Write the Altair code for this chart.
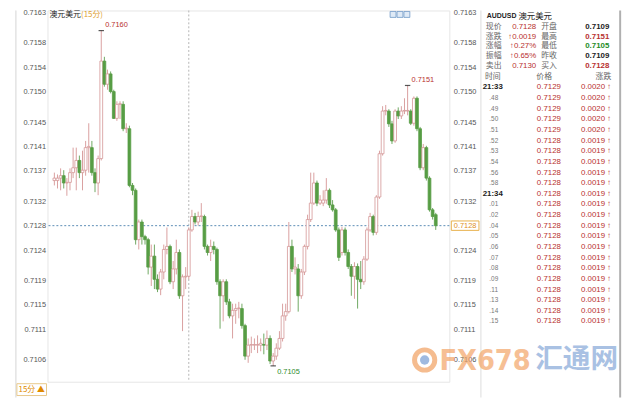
import altair as alt
import pandas as pd

# ---------------- candle data (15-minute AUD/USD) ----------------
start_time = "2017-10-17 13:15"
day_mark = "2017-10-18 00:00"
day_label = "10/18"
opens = [0.71354, 0.71354, 0.71358, 0.71362, 0.71350, 0.71351, 0.71367, 0.71375, 0.71387, 0.71367,
         0.71371, 0.71408, 0.71408, 0.71367, 0.71350, 0.71390, 0.71550, 0.71512, 0.71529, 0.71500,
         0.71456, 0.71479, 0.71479, 0.71439, 0.71439, 0.71346, 0.71338, 0.71257, 0.71286, 0.71262,
         0.71257, 0.71212, 0.71230, 0.71192, 0.71176, 0.71204, 0.71241, 0.71246, 0.71188, 0.71209,
         0.71236, 0.71165, 0.71196, 0.71197, 0.71273, 0.71295, 0.71286, 0.71295, 0.71295, 0.71246,
         0.71236, 0.71246, 0.71241, 0.71188, 0.71165, 0.71188, 0.71155, 0.71132, 0.71141, 0.71144,
         0.71144, 0.71116, 0.71066, 0.71084, 0.71084, 0.71084, 0.71084, 0.71085, 0.71084, 0.71095,
         0.71058, 0.71066, 0.71079, 0.71095, 0.71132, 0.71139, 0.71246, 0.71209, 0.71209, 0.71165,
         0.71204, 0.71246, 0.71290, 0.71317, 0.71350, 0.71317, 0.71317, 0.71322, 0.71338, 0.71314,
         0.71306, 0.71273, 0.71236, 0.71273, 0.71236, 0.71213, 0.71197, 0.71213, 0.71192, 0.71188,
         0.71225, 0.71273, 0.71295, 0.71269, 0.71327, 0.71398, 0.71468, 0.71468, 0.71447, 0.71419,
         0.71468, 0.71460, 0.71468, 0.71468, 0.71468, 0.71448, 0.71489, 0.71439, 0.71375, 0.71408,
         0.71358, 0.71306, 0.71298]
closes = [0.71358, 0.71358, 0.71362, 0.71350, 0.71351, 0.71367, 0.71375, 0.71387, 0.71367, 0.71371,
          0.71408, 0.71410, 0.71367, 0.71350, 0.71390, 0.71550, 0.71512, 0.71529, 0.71500, 0.71456,
          0.71479, 0.71480, 0.71439, 0.71440, 0.71346, 0.71338, 0.71257, 0.71286, 0.71262, 0.71257,
          0.71212, 0.71230, 0.71192, 0.71176, 0.71204, 0.71241, 0.71246, 0.71188, 0.71209, 0.71236,
          0.71165, 0.71196, 0.71197, 0.71273, 0.71295, 0.71286, 0.71295, 0.71296, 0.71246, 0.71236,
          0.71246, 0.71241, 0.71188, 0.71165, 0.71188, 0.71155, 0.71132, 0.71141, 0.71144, 0.71145,
          0.71116, 0.71066, 0.71084, 0.71085, 0.71085, 0.71085, 0.71087, 0.71084, 0.71095, 0.71058,
          0.71066, 0.71079, 0.71095, 0.71132, 0.71139, 0.71246, 0.71209, 0.71212, 0.71165, 0.71204,
          0.71246, 0.71290, 0.71317, 0.71350, 0.71317, 0.71322, 0.71322, 0.71338, 0.71314, 0.71306,
          0.71273, 0.71228, 0.71273, 0.71236, 0.71213, 0.71197, 0.71213, 0.71192, 0.71188, 0.71225,
          0.71273, 0.71295, 0.71269, 0.71327, 0.71398, 0.71468, 0.71469, 0.71447, 0.71419, 0.71468,
          0.71460, 0.71468, 0.71469, 0.71469, 0.71448, 0.71489, 0.71439, 0.71375, 0.71408, 0.71358,
          0.71306, 0.71295, 0.71280]
highs = [0.71367, 0.71364, 0.71374, 0.71371, 0.71358, 0.71374, 0.71408, 0.71408, 0.71395, 0.71403,
         0.71419, 0.71448, 0.71419, 0.71374, 0.71395, 0.71600, 0.71557, 0.71536, 0.71533, 0.71503,
         0.71484, 0.71484, 0.71484, 0.71448, 0.71444, 0.71350, 0.71341, 0.71290, 0.71290, 0.71265,
         0.71260, 0.71249, 0.71249, 0.71200, 0.71209, 0.71249, 0.71277, 0.71249, 0.71222, 0.71257,
         0.71241, 0.71200, 0.71212, 0.71277, 0.71306, 0.71301, 0.71303, 0.71317, 0.71298, 0.71249,
         0.71257, 0.71254, 0.71244, 0.71192, 0.71192, 0.71192, 0.71160, 0.71152, 0.71152, 0.71155,
         0.71152, 0.71119, 0.71095, 0.71098, 0.71095, 0.71100, 0.71095, 0.71103, 0.71108, 0.71100,
         0.71071, 0.71087, 0.71107, 0.71152, 0.71152, 0.71286, 0.71257, 0.71228, 0.71217, 0.71209,
         0.71249, 0.71298, 0.71367, 0.71367, 0.71354, 0.71330, 0.71338, 0.71358, 0.71341, 0.71322,
         0.71309, 0.71277, 0.71278, 0.71277, 0.71241, 0.71217, 0.71220, 0.71218, 0.71222, 0.71230,
         0.71277, 0.71301, 0.71298, 0.71330, 0.71403, 0.71476, 0.71478, 0.71471, 0.71452, 0.71471,
         0.71474, 0.71476, 0.71489, 0.71510, 0.71471, 0.71492, 0.71492, 0.71442, 0.71414, 0.71411,
         0.71361, 0.71309, 0.71301]
lows = [0.71346, 0.71341, 0.71338, 0.71341, 0.71329, 0.71338, 0.71358, 0.71338, 0.71358, 0.71338,
        0.71362, 0.71367, 0.71362, 0.71335, 0.71330, 0.71387, 0.71508, 0.71503, 0.71497, 0.71455,
        0.71452, 0.71455, 0.71435, 0.71432, 0.71343, 0.71330, 0.71249, 0.71241, 0.71249, 0.71249,
        0.71200, 0.71181, 0.71176, 0.71171, 0.71166, 0.71192, 0.71233, 0.71184, 0.71176, 0.71200,
        0.71160, 0.71107, 0.71176, 0.71192, 0.71270, 0.71282, 0.71280, 0.71286, 0.71241, 0.71231,
        0.71222, 0.71233, 0.71183, 0.71111, 0.71123, 0.71150, 0.71128, 0.71095, 0.71119, 0.71128,
        0.71111, 0.71060, 0.71055, 0.71071, 0.71076, 0.71071, 0.71074, 0.71069, 0.71076, 0.71053,
        0.71050, 0.71060, 0.71076, 0.71090, 0.71124, 0.71136, 0.71204, 0.71200, 0.71139, 0.71160,
        0.71199, 0.71241, 0.71286, 0.71314, 0.71312, 0.71314, 0.71312, 0.71316, 0.71309, 0.71303,
        0.71270, 0.71222, 0.71231, 0.71231, 0.71209, 0.71165, 0.71160, 0.71144, 0.71176, 0.71183,
        0.71222, 0.71270, 0.71264, 0.71265, 0.71324, 0.71395, 0.71461, 0.71442, 0.71414, 0.71416,
        0.71455, 0.71455, 0.71463, 0.71461, 0.71445, 0.71444, 0.71435, 0.71371, 0.71371, 0.71354,
        0.71303, 0.71290, 0.71273]

y_ticks = [0.7163, 0.7158, 0.7154, 0.7150, 0.7145, 0.7141, 0.7137, 0.7132,
           0.7128, 0.7124, 0.7119, 0.7115, 0.7111, 0.7106]
last_price = 0.7128
marked_candles = [15, 113]   # annotated highs
marked_low = [70]            # annotated low

# ---------------- quote panel ----------------
quote_labels_l = ["现价", "涨跌", "涨幅", "振幅", "卖出"]
quote_values_l = ["0.7128", "↑0.0019", "↑0.27%", "↑0.65%", "0.7130"]
quote_labels_r = ["开盘", "最高", "最低", "昨收", "买入"]
quote_values_r = ["0.7109", "0.7151", "0.7105", "0.7109", "0.7128"]
quote_colors_r = ["#222222", "#b8312f", "#1e8c1e", "#222222", "#b8312f"]
table_header = ["时间", "价格", "涨跌"]
tick_times = ["21:33", ".48", ".49", ".50", ".51", ".52", ".53", ".54", ".56", ".58",
              "21:34", ".01", ".02", ".04", ".05", ".06", ".07", ".08", ".09", ".11",
              ".13", ".14", ".15"]
tick_prices = ["0.7129"] * 5 + ["0.7128"] * 18
tick_changes = ["0.0020"] * 5 + ["0.0019"] * 18

RED = "#b8312f"
UP_STROKE = "#d49696"
UP_WICK = "#d9a0a0"
DN_FILL = "#579d45"
DN_WICK = "#6fa862"
LAT = "Liberation Sans"
CJK = "Noto Sans CJK SC"

times = pd.date_range(start_time, periods=len(opens), freq="15min")
df = pd.DataFrame({
    "i": list(range(len(opens))),
    "t": times.strftime("%m/%d %H:%M"),
    "open": opens, "high": highs, "low": lows, "close": closes,
})
df["dir"] = ["up" if c >= o else "down" for o, c in zip(opens, closes)]
day_idx = int(list(times).index(pd.Timestamp(day_mark)))

xs = alt.Scale(domain=[-0.62, len(opens) + 1.77], zero=False, nice=False)
ys = alt.Scale(domain=[0.71024, 0.71633], zero=False, nice=False)
dir_dom = ["up", "down"]

y_axis_common = dict(values=y_ticks, format=".4f", labelFontSize=7.5, labelColor="#555555",
                     labelFont=LAT, ticks=False, domain=False, grid=False, title=None)

wick = alt.Chart(df).mark_rule(strokeWidth=1).encode(
    x=alt.X("i:Q", scale=xs, axis=alt.Axis(
        values=[day_idx], labelExpr=f"'{day_label}'",
        orient="bottom", labelAlign="left", labelPadding=5, labelFontSize=7.5,
        labelColor="#333333", labelFont=LAT, ticks=False, domain=False, grid=False,
        title=None, labelFlush=False)),
    y=alt.Y("low:Q", scale=ys, axis=alt.Axis(orient="left", labelPadding=2, **y_axis_common)),
    y2="high:Q",
    color=alt.Color("dir:N", scale=alt.Scale(domain=dir_dom, range=[UP_WICK, DN_WICK]), legend=None),
)

body = alt.Chart(df).mark_bar(size=2.8, strokeWidth=0.8).encode(
    x=alt.X("i:Q", scale=xs, axis=None),
    y=alt.Y("open:Q", scale=ys, axis=alt.Axis(orient="right", labelPadding=4, **y_axis_common)),
    y2="close:Q",
    fill=alt.Fill("dir:N", scale=alt.Scale(domain=dir_dom, range=["#ffffff", DN_FILL]), legend=None),
    stroke=alt.Stroke("dir:N", scale=alt.Scale(domain=dir_dom, range=[UP_STROKE, DN_FILL]), legend=None),
)

v_df = pd.DataFrame({"i": [day_idx]})
vline = alt.Chart(v_df).mark_rule(strokeDash=[2, 2], color="#b5b5b5", strokeWidth=1).encode(
    x=alt.X("i:Q", scale=xs, axis=None))

last_df = pd.DataFrame({"p": [last_price], "txt": [f"{last_price:.4f}"]})
hline = alt.Chart(last_df).mark_rule(strokeDash=[2, 2], color="#5b8cb5", strokeWidth=1).encode(
    y=alt.Y("p:Q", scale=ys, axis=None))
price_box = alt.Chart(last_df).mark_point(
    shape="M-1,-0.34L1,-0.34L1,0.34L-1,0.34Z", size=784, filled=True,
    fill="#ffffff", stroke="#e8b04a", strokeWidth=1, opacity=1).encode(
    x=alt.value(423), y=alt.Y("p:Q", scale=ys, axis=None))
price_txt = alt.Chart(last_df).mark_text(fontSize=7.5, font=LAT, color="#e09020").encode(
    x=alt.value(423), y=alt.Y("p:Q", scale=ys, axis=None), text="txt:N")

hi_df = pd.DataFrame({"i": marked_candles, "v": [highs[k] for k in marked_candles]})
hi_df["txt"] = [f"{v:.4f}" for v in hi_df["v"]]
lo_df = pd.DataFrame({"i": marked_low, "v": [lows[k] for k in marked_low]})
lo_df["txt"] = [f"{v:.4f}" for v in lo_df["v"]]

hi_mark = alt.Chart(hi_df).mark_point(shape="stroke", size=30, color="#111111", strokeWidth=1.2).encode(
    x=alt.X("i:Q", scale=xs, axis=None), y=alt.Y("v:Q", scale=ys, axis=None))
hi_txt = alt.Chart(hi_df).mark_text(align="left", dx=4, dy=-6, fontSize=7.5, font=LAT, color=RED).encode(
    x=alt.X("i:Q", scale=xs, axis=None), y=alt.Y("v:Q", scale=ys, axis=None), text="txt:N")
lo_mark = alt.Chart(lo_df).mark_point(shape="stroke", size=30, color="#111111", strokeWidth=1.2).encode(
    x=alt.X("i:Q", scale=xs, axis=None), y=alt.Y("v:Q", scale=ys, axis=None))
lo_txt = alt.Chart(lo_df).mark_text(align="left", dx=4, dy=6, fontSize=7.5, font=LAT, color="#2e8b2e").encode(
    x=alt.X("i:Q", scale=xs, axis=None), y=alt.Y("v:Q", scale=ys, axis=None), text="txt:N")

one = pd.DataFrame({"a": [0]})

# header at top-left
head1 = alt.Chart(one).mark_text(text="澳元美元", align="left", baseline="middle", font=CJK,
                                 fontSize=8, color="#222222").encode(x=alt.value(2), y=alt.value(5))
head2 = alt.Chart(one).mark_text(text="(15分)", align="left", baseline="middle", font=CJK,
                                 fontSize=8, color="#e0a030").encode(x=alt.value(34), y=alt.value(5))

# small toolbar buttons (top right of plot)
btns = []
for xpos in [350, 357, 364]:
    btns.append(alt.Chart(one).mark_rect(fill="#dfeaf6", stroke="#6f98c6", strokeWidth=0.8).encode(
        x=alt.value(xpos - 3), x2=alt.value(xpos + 3), y=alt.value(1), y2=alt.value(7)))

# bottom-left period box
pbox = alt.Chart(one).mark_rect(fill="#ffffff", stroke="#e8c88a", strokeWidth=1).encode(
    x=alt.value(-31), x2=alt.value(-1), y=alt.value(378), y2=alt.value(390))
ptxt = alt.Chart(one).mark_text(text="15分 ▲", font=CJK, fontSize=8, color="#e08a00",
                                baseline="middle").encode(x=alt.value(-16), y=alt.value(384))

# frame lines
left_line = alt.Chart(one).mark_rule(color="#d4d4d4").encode(
    x=alt.value(-32), y=alt.value(0), y2=alt.value(392))
panel_left = alt.Chart(one).mark_rule(color="#dcdcdc").encode(
    x=alt.value(439), y=alt.value(0), y2=alt.value(392))
panel_right = alt.Chart(one).mark_rule(color="#b0b0b0", strokeWidth=2).encode(
    x=alt.value(580), y=alt.value(0), y2=alt.value(392))

# quote panel
title1 = alt.Chart(one).mark_text(text="AUDUSD", align="left", baseline="middle", font=LAT,
                                  fontSize=7, fontWeight="bold", color="#222222").encode(
    x=alt.value(445), y=alt.value(5.5))
title2 = alt.Chart(one).mark_text(text="澳元美元", align="left", baseline="middle", font=CJK,
                                  fontSize=8.5, color="#222222").encode(
    x=alt.value(477), y=alt.value(5.5))

q = pd.DataFrame({"r": list(range(len(quote_labels_l))), "l1": quote_labels_l, "v1": quote_values_l,
                  "l2": quote_labels_r, "v2": quote_values_r, "c2": quote_colors_r})
qy = alt.Y("r:Q", scale=alt.Scale(domain=[0, 4], range=[17, 56]), axis=None)
qb = alt.Chart(q)
q_l1 = qb.mark_text(align="left", baseline="middle", font=CJK, fontSize=8, color="#666666").encode(
    x=alt.value(444), y=qy, text="l1:N")
q_v1 = qb.mark_text(align="right", baseline="middle", font=LAT, fontSize=8, color=RED).encode(
    x=alt.value(495), y=qy, text="v1:N")
q_l2 = qb.mark_text(align="left", baseline="middle", font=CJK, fontSize=8, color="#666666").encode(
    x=alt.value(500), y=qy, text="l2:N")
q_v2 = qb.mark_text(align="right", baseline="middle", font=LAT, fontSize=8, fontWeight="bold").encode(
    x=alt.value(569), y=qy, text="v2:N", color=alt.Color("c2:N", scale=None))

hdr = []
for lab, xpos, al in zip(table_header, [443, 503, 571], ["left", "center", "right"]):
    hdr.append(alt.Chart(one).mark_text(text=lab, align=al, baseline="middle", font=CJK,
                                        fontSize=8, color="#666666").encode(
        x=alt.value(xpos), y=alt.value(67)))

tk = pd.DataFrame({"r": list(range(len(tick_times))), "time": tick_times,
                   "price": tick_prices, "chg": [c + " ↑" for c in tick_changes]})
tk["major"] = [":" in s for s in tick_times]
ty = alt.Y("r:Q", scale=alt.Scale(domain=[0, 22], range=[78, 315]), axis=None)
tb = alt.Chart(tk)
t_major = tb.transform_filter("datum.major").mark_text(
    align="center", baseline="middle", font=LAT, fontSize=8, fontWeight="bold", color="#222222").encode(
    x=alt.value(451), y=ty, text="time:N")
t_minor = tb.transform_filter("!datum.major").mark_text(
    align="center", baseline="middle", font=LAT, fontSize=6.5, color="#777777").encode(
    x=alt.value(452), y=ty, text="time:N")
t_price = tb.mark_text(align="right", baseline="middle", font=LAT, fontSize=8, color=RED).encode(
    x=alt.value(520), y=ty, text="price:N")
t_chg = tb.mark_text(align="right", baseline="middle", font=LAT, fontSize=8, color=RED).encode(
    x=alt.value(571), y=ty, text="chg:N")

# watermark
logo_o = alt.Chart(one).mark_point(shape="circle", size=420, filled=False, stroke="#f2a060",
                                   strokeWidth=5, opacity=0.7).encode(x=alt.value(382), y=alt.value(354))
logo_b = alt.Chart(one).mark_point(shape="circle", size=90, filled=True, color="#7fa3d6",
                                   opacity=0.75).encode(x=alt.value(382), y=alt.value(354))
wm1 = alt.Chart(one).mark_text(text="FX678", align="left", baseline="middle",
                               font="DejaVu Sans Condensed",
                               fontSize=29, fontWeight="bold", color="#f3a468", opacity=0.7).encode(
    x=alt.value(397), y=alt.value(355))
wm2 = alt.Chart(one).mark_text(text="汇通网", align="left", baseline="middle", font=CJK,
                               fontSize=28, fontWeight="bold", color="#86a8d8", opacity=0.7).encode(
    x=alt.value(494), y=alt.value(354))

layers = [left_line, panel_left, panel_right, vline, hline, wick, body,
          hi_mark, hi_txt, lo_mark, lo_txt, price_box, price_txt, head1, head2, *btns, pbox, ptxt,
          title1, title2, q_l1, q_v1, q_l2, q_v2, *hdr, t_major, t_minor, t_price, t_chg,
          logo_o, logo_b, wm1, wm2]

chart = alt.layer(*layers).resolve_scale(y="independent").resolve_axis(y="independent").properties(
    width=407, height=376,
    padding={"left": 40, "top": 0, "right": 185, "bottom": 16},
    autosize=alt.AutoSizeParams(type="none"),
    background="#ffffff",
).configure_view(stroke="#e6e6e6")

chart.save("out.html", embed_options={"renderer": "svg", "actions": False})
